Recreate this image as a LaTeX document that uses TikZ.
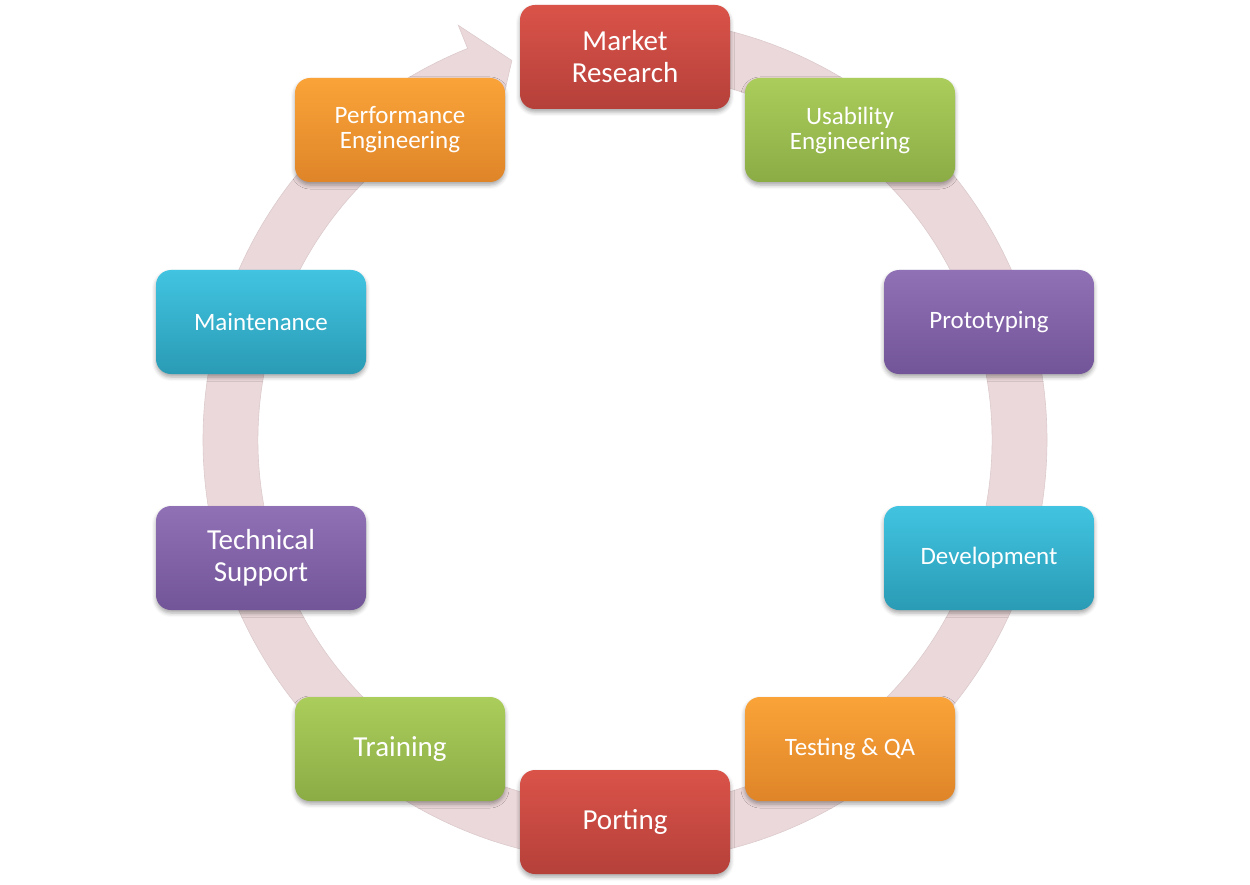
\documentclass[tikz,border=0pt]{standalone}
\usepackage{fontspec}
\setmainfont{Carlito}
\usetikzlibrary{shadows.blur}
\definecolor{ringc}{HTML}{EBD8DA}
\definecolor{ringb}{HTML}{DCCACC}
\definecolor{rtop}{HTML}{DA5349}
\definecolor{rbot}{HTML}{B5403A}
\definecolor{gtop}{HTML}{ABCD5B}
\definecolor{gbot}{HTML}{8BAC45}
\definecolor{ptop}{HTML}{9171B6}
\definecolor{pbot}{HTML}{725498}
\definecolor{ctop}{HTML}{41C4E1}
\definecolor{cbot}{HTML}{2A9BB5}
\definecolor{otop}{HTML}{FAA338}
\definecolor{obot}{HTML}{DF8529}
\begin{document}
\begin{tikzpicture}[x=1pt,y=1pt,
  box/.style={rounded corners=15pt, minimum width=210pt, minimum height=104pt,
    text=white, align=center, inner sep=0pt,
    blur shadow={shadow xshift=0pt, shadow yshift=-3pt, shadow blur radius=4pt, shadow opacity=35}},
  sm/.style={font=\fontsize{25}{25}\selectfont},
  lg/.style={font=\fontsize{29}{32}\selectfont},
  redbox/.style={box, top color=rtop, bottom color=rbot},
  greenbox/.style={box, top color=gtop, bottom color=gbot},
  purplebox/.style={box, top color=ptop, bottom color=pbot},
  cyanbox/.style={box, top color=ctop, bottom color=cbot},
  orangebox/.style={box, top color=otop, bottom color=obot},
  ring/.style={fill=ringc, draw=ringb, line width=0.6pt}
]
\useasboundingbox (0,0) rectangle (1250,-885);
% circular arrow
\begin{scope}[shift={(625,-440)}]
  \coordinate (o1) at (90:422);
  \coordinate (ob) at (-248.1:447);
  \coordinate (tip) at (-253.4:396);
  \coordinate (ib) at (-248.1:342);
  \coordinate (i1) at (-248.1:367);
  \path[ring] (o1) arc[start angle=90, end angle=-248.1, radius=422]
    -- (ob) -- (tip) -- (ib) -- (i1)
    arc[start angle=-248.1, end angle=90, radius=367] -- cycle;
\end{scope}
% boxes
\node[redbox, lg]    (mr)  at (625,-57)  {Market\\Research};
\node[greenbox, sm]  (ue)  at (850,-130)  {Usability\\Engineering};
\node[purplebox, sm] (pro) at (989,-322)  {Prototyping};
\node[cyanbox, sm]   (dev) at (989,-558)  {Development};
\node[orangebox, sm] (tqa) at (850,-749)  {Testing \& QA};
\node[redbox, lg]    (por) at (625,-822)  {Porting};
\node[greenbox, lg]  (tra) at (400,-749)  {Training};
\node[purplebox, lg] (ts)  at (261,-558)  {Technical\\Support};
\node[cyanbox, sm]   (mai) at (261,-322)  {Maintenance};
\node[orangebox, sm] (pe)  at (400,-130)  {Performance\\Engineering};
\end{tikzpicture}
\end{document}
